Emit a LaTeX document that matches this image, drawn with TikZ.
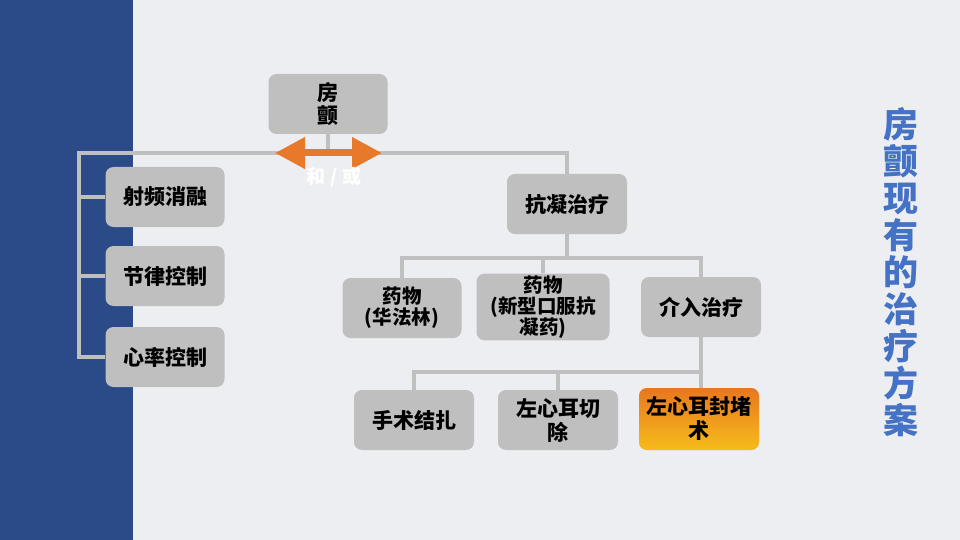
\documentclass[tikz,border=0pt]{standalone}
\usepackage{fontspec}
\setmainfont{Noto Sans CJK SC}
\usepackage{xcolor}
\usepackage{tikz}
\usetikzlibrary{arrows.meta,positioning,calc}
\definecolor{pagebg}{HTML}{EDEEF2}
\definecolor{bandblue}{HTML}{2A4A88}
\definecolor{boxgray}{HTML}{BFBFBF}
\definecolor{linegray}{HTML}{BFBFBF}
\definecolor{arrorange}{HTML}{E8782A}
\definecolor{hiorange}{HTML}{E8771F}
\definecolor{hiyellow}{HTML}{F6BC1B}
\definecolor{titleblue}{HTML}{4472C4}

\begin{document}
\begin{tikzpicture}[x=1pt,y=-1pt,
    box/.style={fill=boxgray, rounded corners=8pt, minimum width=119pt, minimum height=60pt,
        align=center, inner sep=2pt, font=\bfseries\fontsize{21}{24}\selectfont},
    drugbox/.style={box, font=\bfseries\fontsize{19.5}{21}\selectfont},
    link/.style={draw=linegray, line width=3.5pt},
    andor/.style={draw=arrorange, line width=7pt, {Triangle[length=30pt,width=30pt]}-{Triangle[length=30pt,width=30pt]}}]
    \useasboundingbox (0,0) rectangle (960,540);
    \fill[pagebg] (0,0) rectangle (960,540);
    \fill[bandblue] (0,0) rectangle (133,540);

    % Root
    \node [box, font=\bfseries\fontsize{21}{23}\selectfont] (fang) at (328,104) {房\\颤};

    % Left branch
    \node [box] (ablation) at (165,197) {射频消融};
    \node [box] (rhythm) at (165,276) {节律控制};
    \node [box] (rate) at (165,357) {心率控制};

    % Anticoagulation
    \node [box, minimum width=120pt] (anticoag) at (567,204) {抗凝治疗};
    \node [drugbox] (warfarin) at (402,308) {药物\\(华法林)};
    \node [drugbox, minimum width=133pt] (noac) at (543,307) {药物\\(新型口服抗\\凝药)};
    \node [box, minimum width=120pt] (interv) at (701,307) {介入治疗};

    % Interventional
    \node [box, minimum width=120pt] (ligation) at (414,420) {手术结扎};
    \node [box, minimum width=120pt] (excision) at (558,420) {左心耳切\\除};
    \node [box, minimum width=120pt, minimum height=62pt, top color=hiorange, bottom color=hiyellow] (closure) at (699,419) {左心耳封堵\\术};

    % Connectors
    \coordinate (busL) at (79,153);
    \coordinate (bus2) at (567,258);
    \coordinate (bus3) at (701,372);
    \draw [link] (fang.south) -- (fang.south |- busL);
    \draw [link] (rate.west) -| (busL) -| (anticoag.north);
    \draw [link] (busL |- ablation.west) -- (ablation.west);
    \draw [link] (busL |- rhythm.west) -- (rhythm.west);
    \draw [link] (anticoag.south) -- (bus2);
    \draw [link] (warfarin.north) |- (bus2) -| (interv.north);
    \draw [link] (noac.north) -- (noac.north |- bus2);
    \draw [link] (interv.south) -- (bus3);
    \draw [link] (ligation.north) |- (bus3) -- (closure.north -| bus3);
    \draw [link] (excision.north) -- (excision.north |- bus3);

    % And / or
    \coordinate (andL) at (275,153);
    \coordinate (andR) at (382,153);
    \draw [andor] (andL) -- (andR);
    \node [text=white, font=\bfseries\fontsize{19}{21}\selectfont] (andtext) at (334,177) {和 / 或};

    % Title
    \node [text=titleblue, align=center, font=\bfseries\fontsize{35}{37}\selectfont] (title) at (901,272)
        {房\\颤\\现\\有\\的\\治\\疗\\方\\案};
\end{tikzpicture}
\end{document}
